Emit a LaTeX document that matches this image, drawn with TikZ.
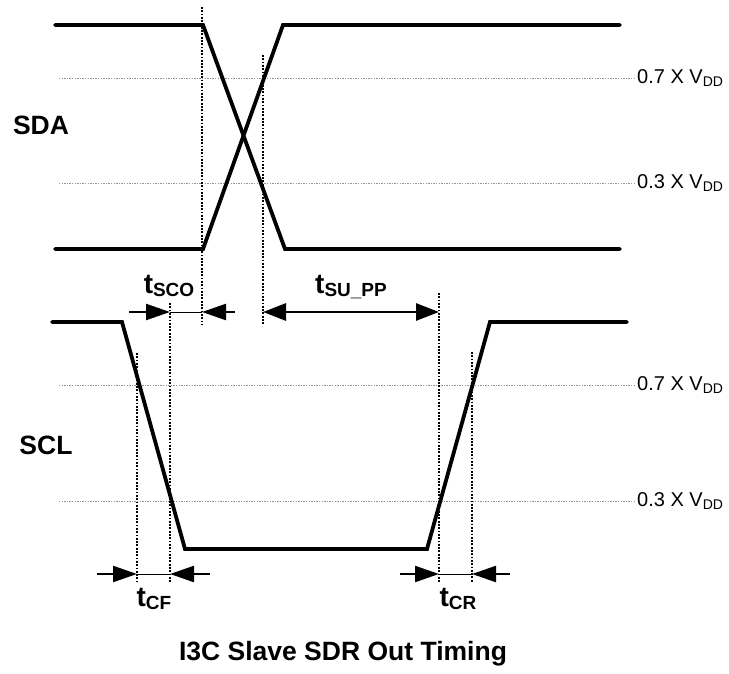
\documentclass[tikz,border=0pt]{standalone}
\usepackage{fontspec}
\setmainfont{Liberation Sans}
\usetikzlibrary{arrows.meta}
\newcommand{\tlab}[1]{{\fontsize{28}{30}\selectfont t}\raisebox{-3pt}{\fontsize{19}{21}\selectfont #1}}
\newcommand{\vlab}[1]{#1 X V\raisebox{-3pt}{\fontsize{14}{16}\selectfont DD}}

\begin{document}
\begin{tikzpicture}[
    x=1pt, y=-1pt,
    signal/.style={line width=3.8pt, line join=miter, line cap=round},
    levelline/.style={gray!85, line width=0.9pt, dash pattern=on 1.3pt off 1.3pt},
    marker/.style={black, line width=1.8pt, dash pattern=on 1.8pt off 1.5pt},
    dimarrow/.style={line width=2.2pt, -{Triangle[length=24pt,width=16pt]}},
    spanarrow/.style={line width=2.8pt, {Triangle[length=23pt,width=17pt]}-{Triangle[length=23pt,width=17pt]}},
    gapline/.style={line width=1pt},
    siglabel/.style={font=\fontsize{26.5}{30}\selectfont\bfseries},
    tlabel/.style={anchor=base, inner sep=0pt, font=\bfseries},
    vlabel/.style={anchor=west, inner sep=1pt, font=\fontsize{20}{24}\selectfont}
]
\useasboundingbox (0,0) rectangle (729,673);

% threshold levels
\draw[levelline] (59,78) -- (636,78);
\draw[levelline] (59,183) -- (636,183);
\draw[levelline] (59,385) -- (636,385);
\draw[levelline] (59,501) -- (636,501);
\node[vlabel] (sda7) at (636,78) {\vlab{0.7}};
\node[vlabel] (sda3) at (636,183) {\vlab{0.3}};
\node[vlabel] (scl7) at (636,385) {\vlab{0.7}};
\node[vlabel] (scl3) at (636,501) {\vlab{0.3}};

% markers
\draw[marker] (202,7) -- (202,325);
\draw[marker] (263,55) -- (263,325);
\draw[marker] (170,303) -- (170,582);
\draw[marker] (137,353) -- (137,582);
\draw[marker] (439,293) -- (439,582);
\draw[marker] (472,352) -- (472,582);

% SDA
\draw[signal] (55,25) -- (203,25) -- (285,249) -- (620,249);
\draw[signal] (55,249) -- (203,249) -- (283,25) -- (620,25);

% SCL
\draw[signal] (52,322) -- (122,322) -- (185,549) -- (427,549) -- (490,322) -- (627,322);

\node[siglabel] (sda) at (41,125) {SDA};
\node[siglabel] (scl) at (46,445) {SCL};

% tSCO
\coordinate (sco0) at (129,312);
\coordinate (sco1) at (170,312);
\coordinate (sco2) at (202,312);
\coordinate (sco3) at (235,312);
\draw[dimarrow] (sco0) -- (sco1);
\draw[gapline] (sco1) -- (sco2);
\draw[dimarrow] (sco3) -- (sco2);
\node[tlabel] (tsco) at (169,293) {\tlab{SCO}};

% tSU_PP
\coordinate (su0) at (263,312);
\coordinate (su1) at (439,312);
\draw[spanarrow] (su0) -- (su1);
\node[tlabel] (tsu) at (351,293) {\tlab{SU\_PP}};

% tCF
\coordinate (cf0) at (97,574);
\coordinate (cf1) at (137,574);
\coordinate (cf2) at (170,574);
\coordinate (cf3) at (210,574);
\draw[dimarrow] (cf0) -- (cf1);
\draw[gapline] (cf1) -- (cf2);
\draw[dimarrow] (cf3) -- (cf2);
\node[tlabel] (tcf) at (154,606) {\tlab{CF}};

% tCR
\coordinate (cr0) at (400,574);
\coordinate (cr1) at (439,574);
\coordinate (cr2) at (472,574);
\coordinate (cr3) at (510,574);
\draw[dimarrow] (cr0) -- (cr1);
\draw[gapline] (cr1) -- (cr2);
\draw[dimarrow] (cr3) -- (cr2);
\node[tlabel] (tcr) at (458,606) {\tlab{CR}};

\node[siglabel] (title) at (343,654) {I3C Slave SDR Out Timing};

\end{tikzpicture}
\end{document}
